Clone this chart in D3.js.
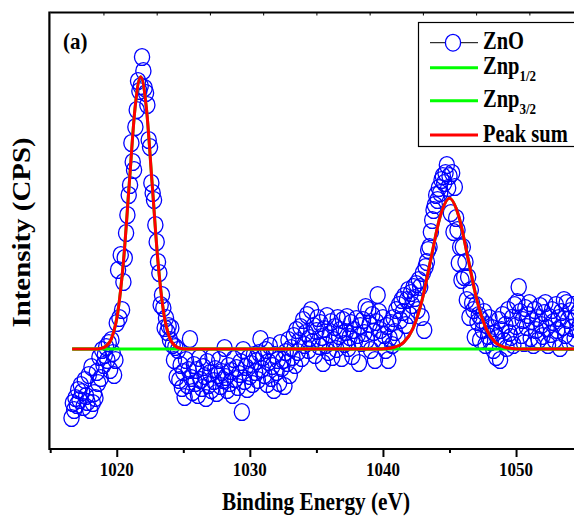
<!DOCTYPE html>
<html><head><meta charset="utf-8">
<script src="https://cdn.jsdelivr.net/npm/d3@7"></script>
<style>html,body{margin:0;padding:0;background:#fff;overflow:hidden}</style>
</head><body><svg id="chart" width="574" height="517"></svg>
<script>
// ---- data ----
const energyStart = 1016.6;   // eV, first ZnO sample
const energyStep = 0.1;       // eV, sampling step
const znoCounts = [
 310,460,390,510,440,590,490,640,570,420, 690,530,470,740,390,820,460,560,510,770,
 660,920,710,990,840,940,1020,890,1060,790, 1090,960,740,890,
 1260,1790,1310,1940,1390,1670,1910,2160,2340,2540, 2640,3060,2870,2790,3220,3390,3680,3580,3630,3920,
 3780,3610,3560,3440,3090,3020,2660,2560,2490,2240, 2070,1870,1760,1440,1540,1410,1210,1310,1170,1230,
 1090,1210,1040,890,1020,720,990,690,840,610, 770,520,890,640,790,1100,
 710,570,840,660,790,540,910,690,610,820, 730,510,870,640,760,590,920,680,800,560,
 740,890,630,770,690,1010,720,590,830,660, 780,540,900,700,810,620,750,870,370,990,
 680,820,600,910,730,850,650,940,770,880, 690,960,1100,800,920,
 740,990,650,870,1030,710,830,590,940,770, 890,660,1060,810,890,630,970,860,1090,740,
 1010,920,1130,840,1190,970,1080,1220,910,1290, 1040,1160,1340,990,1110,1390,1070,1230,940,1180,
 1310,1030,1260,1120,860,1200,1040,1330,970,1150, 1270,920,1090,1220,1000,1310,1130,1190,910,1290,
 1050,1170,1320,1010,1120,1260,930,1190,1080,1300, 1140,860,1230,1060,1290,1160,1420,1090,1390,1250,
 990,1340,1170,890,1270,1540,1370,1190,1090,1310,
 1140,990,1230,890,1110,1260,1040,1310,1170,1390, 1110,1440,1290,1490,1370,1530,1240,1490,1590,1340,
 1560,1440,1620,1510,1650,1390,1690,1620,1320,1760, 1190,1820,1870,1990,2020,2170,2290,2390,2440,2540,
 2490,2610,2560,2690,2730,2660,2760,2840,2610,2730, 2360,2760,2170,2620,2310,2190,1860,2020,1690,2020,
 1720,1870,1490,1720,1320,1590,1460,1390,1120,1440, 1270,1340,1090,1290,1190,1370,1040,1240,1130,1310,
 1070,1210,990,1160,920,1110,1290,890,1190,1340, 1080,1240,1010,1390,1160,
 1120,1310,1040,1440,1230,1470,1620,1370,1140,1290, 1060,1410,1220,1340,1460,1110,1280,1040,1390,1190,
 1310,1090,1430,1240,1130,1360,1460,1210,1040,1320, 1150,1390,1270,1090,1440,1190,1310,1010,1370,1220,
 1490,1140,1460,1290,1070,1380,1210,1440,1110,1310, 1190,1370,1240
];
// fitted components [eV, counts]
const znp32Curve = [
 [1016.65,1000],[1018.3,1000],[1018.79,1006],[1019.22,1030],[1019.65,1120],[1020.08,1368],[1020.51,1884],
 [1020.94,2651],[1021.37,3403],[1021.8,3723],[1022.23,3403],[1022.66,2651],[1023.09,1884],[1023.52,1368],
 [1023.95,1120],[1024.38,1030],[1024.81,1006],[1025.3,1000],[1056,1000]
];
const znp12Curve = [
 [1016.65,1000],[1039.5,1000],[1040.19,1003],[1040.87,1017],[1041.56,1066],[1042.25,1204],[1042.94,1489],
 [1043.62,1914],[1044.31,2330],[1045.0,2507],[1045.69,2330],[1046.38,1914],[1047.06,1489],[1047.75,1204],
 [1048.44,1066],[1049.13,1017],[1049.81,1003],[1050.5,1000],[1056,1000]
];
const peakSumCurve = [
 [1016.65,1000],[1018.3,1000],[1018.79,1006],[1019.22,1030],[1019.65,1120],[1020.08,1368],[1020.51,1884],
 [1020.94,2651],[1021.37,3403],[1021.8,3723],[1022.23,3403],[1022.66,2651],[1023.09,1884],[1023.52,1368],
 [1023.95,1120],[1024.38,1030],[1024.81,1006],[1025.3,1000],
 [1039.5,1000],[1040.19,1003],[1040.87,1017],[1041.56,1066],[1042.25,1204],[1042.94,1489],
 [1043.62,1914],[1044.31,2330],[1045.0,2507],[1045.69,2330],[1046.38,1914],[1047.06,1489],[1047.75,1204],
 [1048.44,1066],[1049.13,1017],[1049.81,1003],[1050.5,1000],[1056,1000]
];
const xMajorTicks = [1020,1030,1040,1050];
const xMinorTicks = [1015,1025,1035,1045,1055];
const xTopTicks = [1019,1023,1027,1031,1035,1039,1043,1047,1051];
const seriesNames = ["ZnO","Znp","Znp","Peak sum"];
const seriesSubs = ["","1/2","3/2",""];
const panelLabel = "(a)";
const xTitle = "Binding Energy (eV)";
const yTitle = "Intensity (CPS)";

// ---- drawing ----
const svg = d3.select("#chart");
const FONT = "'Liberation Serif','Times New Roman',serif";
const x = d3.scaleLinear().domain([1015,1055]).range([50.2, 582.6]);
const y = d3.scaleLinear().domain([0,4370]).range([449, 12]);

const znoData = znoCounts.map((v,i)=>({e: energyStart + i*energyStep, v}));

// scatter
svg.append("g").selectAll("ellipse").data(znoData).join("ellipse")
  .attr("cx", d=>x(d.e)).attr("cy", d=>y(d.v))
  .attr("rx", 7.6).attr("ry", 8.4)
  .attr("fill","none").attr("stroke","#0000ff").attr("stroke-width",1.3);

const line = d3.line().x(d=>x(d[0])).y(d=>y(d[1])).curve(d3.curveMonotoneX);
svg.append("path").attr("d", line(znp32Curve)).attr("fill","none").attr("stroke","#00ff00").attr("stroke-width",3);
svg.append("path").attr("d", line(znp12Curve)).attr("fill","none").attr("stroke","#00ff00").attr("stroke-width",3);
svg.append("path").attr("d", line(peakSumCurve)).attr("fill","none").attr("stroke","#ff0000").attr("stroke-width",3);

// axes
const bottomAxis = svg.append("g").attr("transform","translate(0,449)");
bottomAxis.call(d3.axisBottom(x).tickValues(xMajorTicks).tickSize(8).tickFormat(""));
bottomAxis.append("g").call(d3.axisBottom(x).tickValues(xMinorTicks).tickSize(4).tickFormat(""));
bottomAxis.selectAll(".domain").attr("stroke","#000").attr("stroke-width",2.2).attr("d", `M${x(1015)},0H580`);
bottomAxis.selectAll(".tick line").attr("stroke","#000").attr("stroke-width",2);

const topAxis = svg.append("g").attr("transform","translate(0,12.5)");
topAxis.call(d3.axisTop(x).tickValues(xTopTicks).tickSize(-3).tickFormat(""));
topAxis.selectAll(".domain").attr("stroke","#000").attr("stroke-width",2.2).attr("d", `M${x(1015)},0H580`);
topAxis.selectAll(".tick line").attr("stroke","#000").attr("stroke-width",1);

svg.append("line").attr("x1",x(1015)-0.8).attr("x2",x(1015)-0.8).attr("y1",11.4).attr("y2",450.1)
  .attr("stroke","#000").attr("stroke-width",2.2);

// tick labels
xMajorTicks.forEach(t=>{
  svg.append("text").attr("transform",`translate(${x(t)},476) scale(1,1.12)`)
    .attr("text-anchor","middle").attr("font-family",FONT).attr("font-weight","bold")
    .attr("font-size",17).text(t);
});
// titles
svg.append("text").attr("transform","translate(316,510) scale(1,1.15)")
  .attr("text-anchor","middle").attr("font-family",FONT).attr("font-weight","bold")
  .attr("font-size",21.3).text(xTitle);
svg.append("text").attr("transform","translate(29.5,232.5) rotate(-90) scale(1.18,1)")
  .attr("text-anchor","middle").attr("font-family",FONT).attr("font-weight","bold")
  .attr("font-size",24.5).text(yTitle);
svg.append("text").attr("transform","translate(63,48.5) scale(1,1.12)")
  .attr("font-family",FONT).attr("font-weight","bold").attr("font-size",21).text(panelLabel);

// legend
const lg = svg.append("g");
lg.append("rect").attr("x",418.5).attr("y",22.5).attr("width",170).attr("height",124)
  .attr("fill","#fff").attr("stroke","#000").attr("stroke-width",1.2);
const rowY = [42.7, 67.7, 100.7, 135];
const rowColor = ["#000","#00ff00","#00ff00","#ff0000"];
rowY.forEach((ry,i)=>{
  lg.append("line").attr("x1",430).attr("x2",478).attr("y1",ry).attr("y2",ry)
    .attr("stroke",rowColor[i]).attr("stroke-width", i===0?1:3);
  if(i===0){
    lg.append("ellipse").attr("cx",453).attr("cy",ry).attr("rx",7.6).attr("ry",8.4)
      .attr("fill","#fff").attr("stroke","#0000ff").attr("stroke-width",1.3);
  }
  const t = lg.append("text").attr("transform",`translate(483,${ry+6.5}) scale(1,1.2)`)
    .attr("font-family",FONT).attr("font-weight","bold").attr("font-size",20.5);
  t.append("tspan").text(seriesNames[i]);
  if(seriesSubs[i]) t.append("tspan").attr("font-size",13).attr("dy",5.5).text(seriesSubs[i]);
});
</script></body></html>
